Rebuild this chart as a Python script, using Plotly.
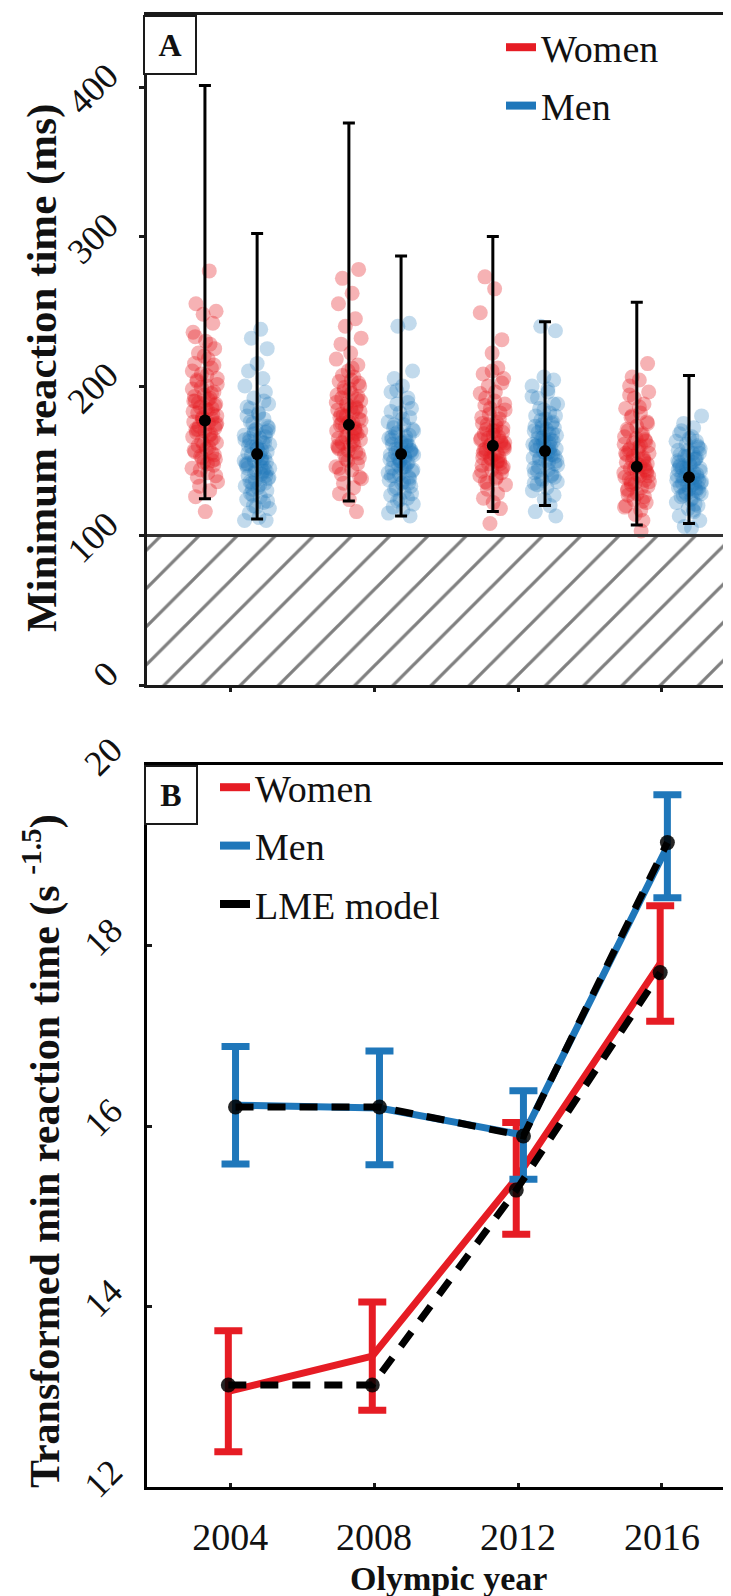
import plotly.graph_objects as go

# ---------------- DATA ----------------
years = [2004, 2008, 2012, 2016]

# Panel A: individual minimum reaction times (ms)
women_rt = {
    2004: [277, 255, 250, 248, 242, 236, 230, 225, 222, 218, 215, 212, 208, 205, 203, 200, 198, 196,
           194, 192, 190, 188, 186, 184, 182, 180, 179, 178, 176, 175, 173, 172, 170, 169, 168, 166,
           165, 163, 162, 160, 158, 156, 155, 153, 151, 149, 147, 145, 142, 139, 136, 133, 130, 126, 116,
           150, 152, 154, 157, 159, 161, 164, 167, 171, 174, 177, 181, 183, 185, 187, 189, 191, 193,
           195, 199, 201, 204, 207, 210, 214, 220, 228, 233, 140, 144, 148, 171, 175, 178, 185, 190],
    2008: [278, 272, 262, 255, 245, 240, 232, 228, 222, 218, 214, 210, 206, 203, 200, 197, 195, 192,
           190, 188, 186, 184, 182, 180, 178, 176, 174, 172, 170, 168, 166, 164, 162, 160, 158, 156,
           154, 152, 150, 148, 146, 144, 141, 138, 135, 132, 128, 124, 116,
           151, 155, 159, 163, 167, 171, 175, 179, 183, 187, 191, 194, 198, 202, 207, 212, 165, 169,
           173, 177, 181, 185, 189, 193, 157, 161, 145, 139, 199, 204, 175, 170, 180, 185, 160, 166],
    2012: [273, 265, 249, 231, 222, 212, 208, 205, 200, 196, 192, 188, 185, 182, 179, 176, 174, 172,
           170, 168, 166, 164, 162, 160, 158, 156, 154, 152, 150, 148, 146, 144, 142, 140, 138, 136,
           134, 131, 128, 125, 122, 118, 108,
           145, 147, 149, 151, 153, 155, 157, 159, 161, 163, 165, 167, 169, 171, 173, 175, 178, 181,
           184, 187, 190, 195, 202, 210, 150, 155, 160, 165, 170, 158, 162, 152, 148, 143, 139, 135],
    2016: [215, 206, 204, 200, 196, 192, 188, 185, 182, 179, 176, 173, 170, 168, 166, 164, 162, 160,
           158, 156, 154, 152, 150, 148, 146, 144, 142, 140, 138, 136, 134, 132, 130, 128, 126, 124,
           122, 120, 117, 114, 110, 103,
           131, 133, 135, 137, 139, 141, 143, 145, 147, 149, 151, 153, 155, 157, 159, 161, 163, 165,
           167, 171, 175, 180, 186, 194, 140, 145, 150, 155, 160, 136, 142, 148, 127, 123, 119, 146],
}
men_rt = {
    2004: [238, 232, 225, 215, 210, 205, 200, 196, 192, 188, 185, 182, 180, 178, 175, 173, 171, 169,
           167, 165, 163, 161, 159, 157, 155, 153, 152, 150, 149, 147, 146, 144, 143, 141, 140, 138,
           137, 135, 133, 132, 130, 128, 126, 124, 122, 120, 118, 115, 112, 110, 110, 160, 150, 145, 170,
           131, 134, 136, 139, 142, 145, 148, 151, 154, 156, 158, 160, 162, 164, 166, 168, 172, 176,
           181, 186, 190, 127, 123, 119, 140, 150, 155, 165, 145, 135, 152, 148, 158, 162, 170, 143],
    2008: [242, 240, 210, 205, 200, 196, 192, 188, 185, 182, 179, 176, 174, 172, 170, 168, 166, 164,
           162, 160, 158, 156, 154, 152, 150, 148, 146, 145, 143, 141, 139, 137, 135, 133, 131, 129,
           127, 125, 123, 121, 119, 117, 115, 113, 150, 160, 140, 155,
           132, 136, 140, 144, 147, 149, 151, 153, 155, 157, 159, 161, 163, 165, 167, 169, 171, 174,
           178, 183, 189, 197, 128, 124, 138, 142, 146, 150, 154, 158, 162, 166, 145, 135, 152, 157],
    2012: [240, 237, 206, 204, 200, 196, 192, 188, 185, 182, 180, 178, 176, 174, 172, 170, 168, 166,
           164, 162, 160, 158, 156, 154, 152, 150, 148, 146, 144, 142, 140, 138, 136, 134, 132, 130,
           127, 124, 120, 116, 113, 160, 155, 165, 150,
           137, 141, 145, 149, 151, 153, 155, 157, 159, 161, 163, 165, 167, 169, 171, 173, 175, 177,
           180, 184, 188, 193, 198, 143, 147, 152, 156, 160, 164, 168, 172, 139, 135, 158, 162, 154],
    2016: [180, 175, 172, 168, 165, 163, 161, 159, 157, 155, 153, 151, 149, 147, 145, 143, 141, 140,
           138, 137, 135, 134, 132, 131, 129, 128, 126, 124, 122, 120, 118, 116, 113, 110, 106, 105,
           140, 135, 145, 130, 150,
           125, 127, 129, 131, 133, 135, 137, 139, 141, 143, 145, 147, 149, 151, 153, 155, 157, 160,
           163, 166, 170, 136, 138, 142, 146, 148, 152, 128, 132, 144, 139, 134, 121, 117, 154, 158],
}
# hand-typed horizontal jitter (years)
jitter = [0.12, -0.25, 0.31, -0.05, 0.22, -0.33, 0.02, 0.27, -0.18, 0.09, -0.29, 0.18, -0.10, 0.34,
          -0.22, 0.05, -0.35, 0.25, -0.02, 0.14, -0.27, 0.30, -0.13, 0.07, -0.20, 0.33, -0.07, 0.20,
          -0.31, 0.10, -0.16, 0.28, 0.00, -0.24, 0.16, -0.34, 0.23, -0.09, 0.32, -0.19, 0.04, -0.28,
          0.19, -0.12, 0.29, -0.03, 0.24, -0.36, 0.08, -0.21, 0.35, -0.15, 0.13, -0.26, 0.01, 0.21,
          -0.08, 0.26, -0.30, 0.11, -0.04, 0.17]

women_mean_A = [177, 174, 160, 146]
women_top_A = [401, 376, 300, 256]
women_bot_A = [124.5, 123, 116, 107]
men_mean_A = [154.5, 154.5, 156.5, 139]
men_top_A = [302, 287, 243, 207]
men_bot_A = [111, 113, 120, 108]
false_start_limit = 100

# Panel B: transformed min reaction time (s^-1.5)
women_B = [13.06, 13.45, 15.42, 17.80]
women_B_err = [0.67, 0.60, 0.62, 0.64]
men_B = [16.23, 16.20, 15.90, 19.10]
men_B_err = [0.65, 0.63, 0.49, 0.57]
lme_women = [13.13, 13.13, 15.29, 17.70]
lme_men = [16.21, 16.21, 15.89, 19.14]

yA_ticks = [0, 100, 200, 300, 400]
yB_ticks = [12, 14, 16, 18, 20]

# ---------------- STYLE ----------------
RED = "rgb(230,28,36)"
BLUE = "rgb(31,119,186)"
RED_T = "rgba(230,28,36,0.34)"
BLUE_T = "rgba(31,119,186,0.27)"
SERIF = "Liberation Serif, Times New Roman, serif"
W, H = 731, 1596
XR = [2001.69, 2018.14]
offA_w, offA_m = -0.70, 0.75
offB_w, offB_m = -0.05, 0.15

fig = go.Figure()

# hatched region below the false-start limit
fig.add_trace(go.Scatter(
    x=[XR[0], XR[1], XR[1], XR[0], XR[0]], y=[0, 0, false_start_limit, false_start_limit, 0],
    fill="toself", fillcolor="rgba(255,255,255,0)", mode="lines", line=dict(width=0),
    fillpattern=dict(shape="/", size=27, solidity=0.12, fgcolor="#000000", bgcolor="white"),
    hoverinfo="skip", showlegend=False, xaxis="x", yaxis="y"))

for g, yr in enumerate(years):
    ys = women_rt[yr]
    xs = [yr + offA_w + jitter[(i + 7 * g) % len(jitter)] for i in range(len(ys))]
    fig.add_trace(go.Scatter(x=xs, y=ys, mode="markers",
                             marker=dict(size=15, color=RED_T, line=dict(width=0)),
                             showlegend=False, xaxis="x", yaxis="y"))
    ys = men_rt[yr]
    xs = [yr + offA_m + jitter[(i + 7 * g + 29) % len(jitter)] for i in range(len(ys))]
    fig.add_trace(go.Scatter(x=xs, y=ys, mode="markers",
                             marker=dict(size=15, color=BLUE_T, line=dict(width=0)),
                             showlegend=False, xaxis="x", yaxis="y"))

for off, mean, top, bot in [(offA_w, women_mean_A, women_top_A, women_bot_A),
                            (offA_m, men_mean_A, men_top_A, men_bot_A)]:
    fig.add_trace(go.Scatter(
        x=[y + off for y in years], y=mean, mode="markers",
        marker=dict(size=12, color="black"),
        error_y=dict(type="data", symmetric=False,
                     array=[t - m for t, m in zip(top, mean)],
                     arrayminus=[m - b for m, b in zip(mean, bot)],
                     color="black", thickness=3, width=6),
        showlegend=False, xaxis="x", yaxis="y"))

# legend A (legend-only traces)
fig.add_trace(go.Scatter(x=[None], y=[None], mode="lines", name="Women",
                         line=dict(color=RED, width=8), legend="legend", legendgroup="a1",
                         xaxis="x", yaxis="y"))
fig.add_trace(go.Scatter(x=[None], y=[None], mode="lines", name="Men",
                         line=dict(color=BLUE, width=8), legend="legend", legendgroup="a2",
                         xaxis="x", yaxis="y"))

# Panel B
fig.add_trace(go.Scatter(x=[y + offB_w for y in years], y=women_B, mode="lines",
                         line=dict(color=RED, width=7),
                         error_y=dict(type="data", array=women_B_err, color=RED, thickness=7, width=14),
                         showlegend=False, xaxis="x2", yaxis="y2"))
fig.add_trace(go.Scatter(x=[y + offB_m for y in years], y=men_B, mode="lines",
                         line=dict(color=BLUE, width=7),
                         error_y=dict(type="data", array=men_B_err, color=BLUE, thickness=7, width=14),
                         showlegend=False, xaxis="x2", yaxis="y2"))
for off, vals in [(offB_w, lme_women), (offB_m, lme_men)]:
    fig.add_trace(go.Scatter(x=[y + off for y in years], y=vals, mode="lines+markers",
                             line=dict(color="black", width=7, dash="18px,14px"),
                             marker=dict(size=15, color="rgba(0,0,0,0.85)"),
                             showlegend=False, xaxis="x2", yaxis="y2"))

fig.add_trace(go.Scatter(x=[None], y=[None], mode="lines", name="Women",
                         line=dict(color=RED, width=8), legend="legend2", legendgroup="b1",
                         xaxis="x2", yaxis="y2"))
fig.add_trace(go.Scatter(x=[None], y=[None], mode="lines", name="Men",
                         line=dict(color=BLUE, width=8), legend="legend2", legendgroup="b2",
                         xaxis="x2", yaxis="y2"))
fig.add_trace(go.Scatter(x=[None], y=[None], mode="lines", name="LME model",
                         line=dict(color="black", width=8), legend="legend2", legendgroup="b3",
                         xaxis="x2", yaxis="y2"))

fig.add_shape(type="line", xref="x", yref="y", x0=XR[0], x1=XR[1],
              y0=false_start_limit, y1=false_start_limit,
              line=dict(color="#333333", width=3))


def py(p):
    return 1 - p / H


x_dom = [139 / W, 1.0]
axis_common = dict(showline=True, linecolor="#1a1a1a", linewidth=3, showgrid=False, zeroline=False,
                   automargin=False,
                   tickcolor="#1a1a1a", tickwidth=3, tickfont=dict(family=SERIF, size=36, color="#111"))

fig.update_layout(
    width=W, height=H, margin=dict(l=0, r=0, t=0, b=0, pad=0, autoexpand=False),
    paper_bgcolor="white", plot_bgcolor="white",
    font=dict(family=SERIF, color="#111"),
    xaxis=dict(domain=x_dom, range=XR, tickmode="array", tickvals=years, ticktext=["", "", "", ""],
               ticks="outside", ticklen=4, mirror=True, anchor="y", **axis_common),
    yaxis=dict(domain=[py(677), py(7)], range=[0, (677 - 7) / 1.495], tickmode="array",
               tickvals=yA_ticks, ticks="outside", ticklen=5, tickangle=-45, anchor="x",
               ticklabelstandoff=24, ticklabelshift=-16, **axis_common),
    xaxis2=dict(domain=x_dom, range=XR, tickmode="array", tickvals=years,
                ticks="inside", ticklen=4, mirror=True, anchor="y2", ticklabelstandoff=14,
                **{**axis_common, "linecolor": "black", "tickfont": dict(family=SERIF, size=38, color="#111")}),
    yaxis2=dict(domain=[py(1479), py(757)], range=[12, 20], tickmode="array", tickvals=yB_ticks,
                ticks="inside", ticklen=5, tickangle=-45, anchor="x2", ticklabelstandoff=25,
                ticklabelshift=-20, **{**axis_common, "linecolor": "black"}),
    legend=dict(x=493 / W, y=py(8), xanchor="left", yanchor="top", bgcolor="rgba(0,0,0,0)",
                font=dict(family=SERIF, size=38, color="#111"), tracegroupgap=6, itemwidth=30),
    legend2=dict(x=207 / W, y=py(748), xanchor="left", yanchor="top", bgcolor="rgba(0,0,0,0)",
                 font=dict(family=SERIF, size=38, color="#111"), tracegroupgap=6, itemwidth=30),
)

fig.add_annotation(xref="paper", yref="paper", x=139 / W, y=py(7), xanchor="left", yanchor="top",
                   xshift=-4, text="<b>A</b>", showarrow=False,
                   font=dict(family=SERIF, size=32, color="#111"),
                   bordercolor="#1a1a1a", borderwidth=2, bgcolor="white", width=48, height=54)
fig.add_annotation(xref="paper", yref="paper", x=140 / W, y=py(757), xanchor="left", yanchor="top",
                   xshift=-4, text="<b>B</b>", showarrow=False,
                   font=dict(family=SERIF, size=32, color="#111"),
                   bordercolor="#1a1a1a", borderwidth=2, bgcolor="white", width=48, height=54)
fig.add_annotation(xref="paper", yref="paper", x=34 / W, y=py(360), textangle=-90,
                   xanchor="center", yanchor="middle",
                   text="<b>Minimum reaction time (ms)</b>", showarrow=False,
                   font=dict(family=SERIF, size=43, color="#111"))
fig.add_annotation(xref="paper", yref="paper", x=34 / W, y=py(1143), textangle=-90,
                   xanchor="center", yanchor="middle",
                   text="<b>Transformed min reaction time (s <sup>-1.5</sup>)</b>", showarrow=False,
                   font=dict(family=SERIF, size=42, color="#111"))
fig.add_annotation(xref="paper", yref="paper", x=440 / W, y=py(1570),
                   xanchor="center", yanchor="middle",
                   text="<b>Olympic year</b>", showarrow=False,
                   font=dict(family=SERIF, size=34, color="#111"))

fig.write_html("out.html")
